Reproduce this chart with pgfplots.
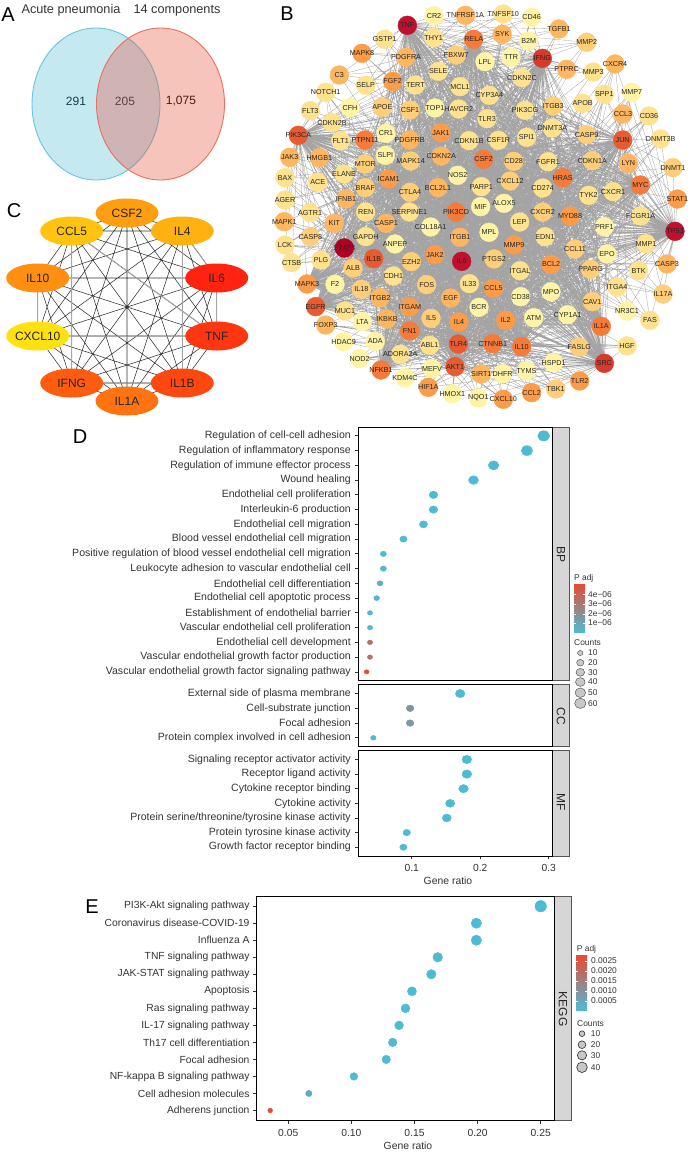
\documentclass[border=0pt]{standalone}
\usepackage{fontspec}
\setmainfont{Liberation Sans}
\usepackage{pgfplots}
\usepackage{pgfplotstable}
\pgfplotsset{compat=1.18}

\definecolor{txt}{HTML}{333333}
\definecolor{npgb}{RGB}{77,187,213}
\definecolor{npgr}{RGB}{230,75,53}
\definecolor{stripf}{HTML}{D6D6D6}
\definecolor{stripd}{HTML}{555555}
\definecolor{edgec}{HTML}{A4A4A4}

\pgfdeclareplotmark{venn}{\pgfpathellipse{\pgfpointorigin}{\pgfqpoint{64pt}{0pt}}{\pgfqpoint{0pt}{76pt}}\pgfusepathqfillstroke}
\pgfdeclareplotmark{cell}{\pgfpathellipse{\pgfpointorigin}{\pgfqpoint{31.5pt}{0pt}}{\pgfqpoint{0pt}{14.5pt}}\pgfusepathqfill}

% network B, positions in 3x pixels, d = degree class 1..10
\pgfplotstableread{
name x y d
TNF 502 76 9
CR2 582 47 1
TNFRSF1A 676 46 4
TNFSF10 790 42 2
CD46 875 52 1
TGFB1 957 87 4
THY1 581 113 2
RELA 701 118 6
SYK 787 103 4
B2M 866 123 1
GSTP1 434 118 2
MMP2 1040 127 3
MAPK8 366 160 5
PDGFRA 498 172 4
FBXW7 649 165 3
LPL 735 185 1
TTR 813 172 1
IFNG 907 175 8
CXCR4 1125 192 4
PTPRC 980 208 4
MMP3 1060 216 2
C3 298 225 4
SELE 595 214 2
CDKN2C 846 233 2
FGF2 458 244 5
TERT 526 255 2
SELP 377 256 2
MCL1 660 260 2
NOTCH1 257 277 2
SPP1 1093 283 2
MMP7 1175 277 1
CYP3A4 748 286 2
FLT3 211 332 2
CFH 330 323 1
APOE 427 322 3
CSF1 510 330 3
TOP1 585 324 1
HAVCR2 656 327 2
PIK3CG 855 331 2
ITGB3 940 318 3
APOB 1028 310 2
CCL3 1149 342 4
CD36 1227 348 2
TLR3 741 356 2
CDKN2B 276 368 2
DNMT3A 937 384 2
PIK3CA 175 406 7
CR1 438 400 1
JAK1 603 398 5
PTPN11 375 420 6
FLT1 302 422 2
PDGFRB 509 420 4
CDKN1B 687 422 2
CSF1R 775 421 2
SPI1 860 412 2
CASP9 1040 404 3
JUN 1148 420 7
DNMT3B 1262 417 2
JAK3 149 472 4
HMGB1 238 473 4
SLPI 436 466 1
CDKN2A 604 468 4
CSF2 731 478 6
CD28 821 484 3
FGFR1 924 485 2
MTOR 376 492 3
MAPK14 512 483 3
CDKN1A 1057 482 3
LYN 1165 490 4
DNMT1 1299 503 3
ELANE 312 522 2
BAX 135 533 2
ACE 233 547 2
ICAM1 446 537 5
NOS2 653 526 1
CXCL12 810 543 3
HRAS 968 533 6
MYC 1201 555 6
CD274 908 564 2
BRAF 376 563 3
BCL2L1 594 563 4
PARP1 724 560 2
TYK2 1046 586 2
CXCR1 1119 575 2
STAT1 1312 597 5
AGER 135 600 2
CTLA4 510 577 3
IFNB1 318 597 4
ALOX5 792 610 1
MIF 722 620 1
AGTR1 210 638 2
REN 377 636 2
SERPINE1 508 636 2
PIK3CD 648 636 6
LEP 839 666 2
CXCR2 908 636 3
MYD88 990 648 5
FCGR1A 1202 648 2
PRF1 1093 680 1
MAPK1 133 665 4
KIT 283 670 4
CASP1 438 670 4
COL18A1 572 681 1
MPL 747 697 1
EDN1 915 710 2
TP53 1305 694 9
CASP8 211 710 3
GAPDH 377 710 2
ANPEP 465 732 1
ITGB1 660 712 4
MMP9 822 735 5
MMP1 1218 731 2
LCK 135 735 2
STAT3 313 744 10
CCL11 1005 747 3
EPO 1101 762 1
IL1B 401 776 7
JAK2 585 764 5
PTGS2 762 777 3
IL6 665 784 9
EZH2 514 785 3
BCL2 933 793 5
CASP3 1281 792 4
CTSB 155 788 2
PLG 243 780 2
ALB 339 804 3
ITGAL 840 812 2
PPARG 1052 808 3
BTK 1196 812 2
CDH1 460 828 2
F2 285 853 1
MAPK3 201 852 5
FOS 560 854 3
IL33 688 851 2
CCL5 760 865 5
MPO 933 875 1
ITGA4 1131 861 2
IL17A 1269 882 3
IL18 364 868 3
CD38 842 890 1
EGF 632 894 4
ITGB2 420 893 4
CAV1 1057 905 3
BCR 717 922 1
EGFR 227 920 7
ITGAM 509 921 5
MUC1 315 933 2
NR3C1 1161 933 1
CYP1A1 983 944 1
IL5 573 955 3
IL2 797 961 5
ATM 881 953 1
IKBKB 441 957 4
LTA 367 965 1
IL4 657 966 5
FAS 1230 961 2
FOXP3 257 975 4
IL1A 1084 979 6
FN1 509 993 6
ADA 406 1024 1
HDAC9 311 1025 1
ABL1 569 1036 2
TLR4 655 1032 7
CTNNB1 758 1031 6
IL10 845 1040 6
FASLG 1018 1041 3
HGF 1161 1038 2
ADORA2A 481 1063 2
HSPD1 941 1088 1
NOD2 359 1076 1
NFKB1 423 1110 6
AKT1 645 1100 7
SRC 1093 1090 8
MEFV 576 1106 1
TYMS 859 1112 1
SIRT1 724 1122 4
DHFR 788 1121 1
KDM4C 495 1133 1
HIF1A 565 1162 5
TLR2 1019 1143 5
CCL2 875 1178 5
TBK1 947 1167 3
HMOX1 637 1181 1
NQO1 715 1194 1
CXCL10 790 1198 5
}\netnodes

% network C, g = green channel of the node colour
\pgfplotstableread{
name x y g
CSF2 127 213 154
CCL5 71.7 231 192
IL4 182.3 231 174
IL10 37.7 278 138
IL6 216.7 278 26
CXCL10 37.7 336 222
TNF 216.7 336 46
IFNG 71.7 383 85
IL1B 182.3 383 64
IL1A 127 401 110
}\cnodes

\pgfplotstableread{
x n p
0.2927 60 0.02
0.2683 55 0.02
0.2195 45 0.02
0.1902 39 0.02
0.1317 27 0.02
0.1317 27 0.02
0.1171 24 0.02
0.0878 18 0.02
0.0585 12 0.02
0.0585 12 0.02
0.0537 11 0.6
0.0488 10 0.25
0.0390 8 0.25
0.0390 8 0.2
0.0390 8 3.4
0.0390 8 3.2
0.0341 7 5.05
}\bpdata
\pgfplotstableread{
x n p
0.1707 35 0.02
0.0976 20 1.75
0.0976 20 1.5
0.0439 9 0.02
}\ccdata
\pgfplotstableread{
x n p
0.1805 37 0.02
0.1805 37 0.02
0.1756 36 0.02
0.1561 32 0.02
0.1512 31 0.02
0.0927 19 0.02
0.0878 18 0.02
}\mfdata
\pgfplotstableread{
x n p
0.2500 49 0.00001
0.1990 39 0.00001
0.1990 39 0.00001
0.1684 33 0.00001
0.1633 32 0.00001
0.1480 29 0.00001
0.1429 28 0.00001
0.1378 27 0.00001
0.1327 26 0.00001
0.1276 25 0.00001
0.1020 20 0.00001
0.0663 13 0.0004
0.0357 7 0.00275
}\keggdata

% legend keys for the counts
\pgfplotstableread{
x y n
580.3 653 10
580.3 662.7 20
580.3 672.3 30
580.3 682 40
580.3 692.7 50
580.3 703.3 60
}\legD
\pgfplotstableread{
x y n
582 1033.7 10
582 1044.7 20
582 1055.3 30
582 1067.3 40
}\legE

% node positions as macros, used for the edges
\newcommand\loadpts[2]{%
  \pgfplotstablegetrowsof{#1}\pgfmathtruncatemacro\lastrow{\pgfplotsretval-1}%
  \foreach \i in {0,...,\lastrow}{%
    \pgfplotstablegetelem{\i}{name}\of#1\let\nm\pgfplotsretval
    \pgfplotstablegetelem{\i}{x}\of#1\let\vx\pgfplotsretval
    \pgfplotstablegetelem{\i}{y}\of#1\let\vy\pgfplotsretval
    \expandafter\xdef\csname P@#2\nm\endcsname{(\vx,\vy)}%
  }%
}
\gdef\edges{}
\newcommand\collect[3]{%
  \foreach \h in #1{\foreach \t in #2{%
    \xdef\edges{\edges\csname P@#3\h\endcsname\csname P@#3\t\endcsname}%
  }}%
}

\def\inner{PDGFRA,FBXW7,LPL,FGF2,TERT,SELE,MCL1,CYP3A4,CSF1,TOP1,HAVCR2,PIK3CG,ITGB3,TLR3,DNMT3A,JAK1,PTPN11,PDGFRB,CDKN1B,CSF1R,SPI1,CASP9,CDKN2A,CSF2,CD28,FGFR1,MTOR,MAPK14,CDKN1A,ICAM1,NOS2,CXCL12,HRAS,CD274,BRAF,BCL2L1,PARP1,TYK2,CXCR1,CTLA4,ALOX5,MIF,SERPINE1,PIK3CD,LEP,CXCR2,MYD88,COL18A1,MPL,EDN1,GAPDH,ANPEP,ITGB1,MMP9,CCL11,EPO,IL1B,JAK2,PTGS2,IL6,EZH2,BCL2,ITGAL,PPARG,CDH1,FOS,IL33,CCL5,MPO,CD38,EGF,ITGB2,BCR,ITGAM,CAV1,IL18,IL5,IL2,ATM,IKBKB,IL4,FN1,CYP1A1,TLR4,CTNNB1,IL10}
\def\north{CR2,TNFRSF1A,TNFSF10,CD46,TGFB1,THY1,RELA,SYK,B2M,GSTP1,MMP2,MAPK8,TTR,CDKN2C,PTPRC,MMP3,SELP,C3}
\def\west{NOTCH1,FLT3,CFH,APOE,CDKN2B,CR1,FLT1,JAK3,HMGB1,SLPI,ELANE,BAX,ACE,AGER,IFNB1,AGTR1,REN,MAPK1,KIT,CASP8,LCK,STAT3,CTSB,PLG,ALB,F2,MAPK3,CASP1}
\def\east{CXCR4,SPP1,MMP7,APOB,CCL3,CD36,DNMT3B,LYN,DNMT1,MYC,STAT1,FCGR1A,PRF1,TP53,MMP1,CASP3,BTK,ITGA4,IL17A,NR3C1,FAS,JUN}
\def\south{EGFR,MUC1,LTA,FOXP3,IL1A,ADA,HDAC9,ABL1,FASLG,HGF,ADORA2A,HSPD1,NOD2,NFKB1,AKT1,SRC,MEFV,TYMS,SIRT1,DHFR,KDM4C,HIF1A,TLR2,CCL2,TBK1,HMOX1,NQO1,CXCL10}
\def\hubsA{TNF,IL6,STAT3,TP53,SRC,IFNG,JUN,AKT1,EGFR,PIK3CA,NFKB1,MYC,RELA,MAPK3,IL1A}
\def\hubsI{IL1B,CSF2,ICAM1,PIK3CD,JAK2,CTNNB1,IL10,TLR4,FN1,HRAS,MYD88,MMP9}
\def\hubsN{TNF,IFNG,IL6,CSF2,FGF2,PDGFRA}
\def\hubsW{PIK3CA,STAT3,IL1B,IL6,CDKN2A,ICAM1}
\def\hubsE{TP53,JUN,HRAS,IL6,CCL11,BCL2}
\def\hubsS{AKT1,SRC,TLR4,IL6,CTNNB1,IL10,FN1}
\def\call{CSF2,CCL5,IL4,IL10,IL6,CXCL10,TNF,IFNG,IL1B,IL1A}

\loadpts{\netnodes}{}
\collect{\hubsA}{\inner}{}
\collect{\hubsI}{\inner}{}
\collect{\hubsN}{\north}{}
\collect{\hubsW}{\west}{}
\collect{\hubsE}{\east}{}
\collect{\hubsS}{\south}{}
\global\let\netedges\edges
\gdef\edges{}
\loadpts{\cnodes}{c}
\collect{\call}{\call}{c}
\global\let\cedges\edges

\pgfplotsset{
  dots/.style={
    scale only axis, clip=false,
    y dir=reverse,
    axis line style={line width=0.85pt,black},
    tick style={line width=0.7pt,color=txt},
    tick align=outside, major tick length=3.5pt,
    xtick pos=bottom, ytick pos=left,
    yticklabel style={font=\fontsize{#1}{11}\selectfont,text=txt,inner sep=0pt,xshift=-3.5pt},
    xticklabel style={font=\fontsize{10.3}{11}\selectfont,text=txt,yshift=-1.5pt},
    colormap={npg}{rgb255=(77,187,213) rgb255=(230,75,53)},
  },
  flatscatter/.style={scatter/use mapped color={draw=mapped color,fill=mapped color}},
  dotplot/.style={
    scatter, only marks, mark=*, flatscatter,
    point meta=explicit,
    scatter/@pre marker code/.append style={/tikz/mark size=\rad},
  },
  textplot/.style={
    only marks, mark=none, forget plot,
    point meta=explicit symbolic,
    nodes near coords,
    every node near coord/.append style={anchor=center,inner sep=0pt,text=black!85,font=#1},
  },
  legkey/.style={
    scatter, only marks, mark=*, point meta=explicit,
    scatter/use mapped color={draw=black!75,fill=black!22},
    mark options={line width=0.7pt},
    scatter/@pre marker code/.append style={/tikz/mark size=\rad},
  },
  legtext/.style={
    only marks, mark=none, forget plot,
    point meta=explicit symbolic,
    nodes near coords,
    every node near coord/.append style={anchor=west,inner sep=0pt,xshift=#1,font=\fontsize{8.4}{9}\selectfont,text=txt},
  },
}
\tikzset{
  strip/.style={fill=stripf,draw=stripd,line width=0.85pt},
  striplab/.style={rotate=-90,font=\fontsize{12}{13}\selectfont,text=black!85},
  leg/.style={anchor=west,inner sep=0pt,font=\fontsize{8.4}{9}\selectfont,text=txt},
  letter/.style={inner sep=0pt,font=\fontsize{20}{22}\selectfont},
  axlab/.style={inner sep=0pt,font=\fontsize{10.4}{11}\selectfont,text=txt},
  barshade/.style={bottom color=npgb,top color=npgr,middle color=npgb!50!npgr},
}

\begin{document}
\begin{tikzpicture}
\path[use as bounding box] (0pt,0pt) rectangle (692pt,1152pt);
% page axis in reference pixels: panels A, C, letters, strips, legends
\begin{axis}[
  name=page, at={(0pt,0pt)}, anchor=south west,
  scale only axis, width=692pt, height=1152pt,
  xmin=0, xmax=692, ymin=0, ymax=1152, y dir=reverse,
  hide axis, clip=false,
  colormap={cnet}{rgb255=(255,20,16) rgb255=(255,225,16)},
]
% A
\addplot[only marks, mark=venn, mark options={fill=npgb, draw=npgb!85!white, fill opacity=0.33, line width=0.9pt}] coordinates {(96,104)};
\addplot[only marks, mark=venn, mark options={fill=npgr, draw=npgr!80!white, fill opacity=0.33, line width=0.9pt}] coordinates {(160.5,104)};
\node[inner sep=0pt,font=\fontsize{12.7}{14}\selectfont,text=txt] at (71,10.5) {Acute pneumonia};
\node[inner sep=0pt,font=\fontsize{12.7}{14}\selectfont,text=txt] at (177,10.5) {14 components};
\node[inner sep=0pt,font=\fontsize{12}{13}\selectfont] at (76,101) {291};
\node[inner sep=0pt,font=\fontsize{12}{13}\selectfont] at (125,101) {205};
\node[inner sep=0pt,font=\fontsize{12}{13}\selectfont] at (181,101) {1,075};
% C
\edef\cmd{\noexpand\addplot[black!80,line width=0.55pt,forget plot] coordinates {\cedges};}\cmd
\addplot[gray!70,line width=1pt,forget plot] coordinates {(37.7,278)(37.7,336)(216.7,336)(71.7,231)(71.7,383)(182.3,383)(182.3,231)(216.7,278)(216.7,336)};
\addplot[scatter,only marks,mark=cell,flatscatter,point meta=explicit,point meta min=20,point meta max=225]
  table[x=x,y=y,meta=g] {\cnodes};
\addplot[textplot={\fontsize{12}{13}\selectfont}] table[x=x,y=y,meta=name] {\cnodes};
% letters
\node[letter] at (8,15) {A};
\node[letter] at (287,14) {B};
\node[letter] at (14,211) {C};
\node[letter] at (80,437) {D};
\node[letter] at (92,907) {E};
% strips
\draw[strip] (552.3,427) rectangle (569.3,680.7);
\node[striplab] at (561,554) {BP};
\draw[strip] (552.3,684.7) rectangle (569.3,746.7);
\node[striplab] at (561,716) {CC};
\draw[strip] (552.3,750.7) rectangle (569.3,856);
\node[striplab] at (561,802.3) {MF};
\draw[strip] (554,896) rectangle (571.7,1120.7);
\node[striplab] at (563,1009) {KEGG};
% axis titles
\node[axlab] at (448,881) {Gene ratio};
\node[axlab] at (408,1146) {Gene ratio};
% legend of D
\node[leg] at (574,578) {P adj};
\shade[barshade] (574,584) rectangle (585,632.7);
\foreach \yy/\tt in {594.3/4e−06,604/3e−06,613.7/2e−06,623/1e−06}{
  \edef\tmp{\noexpand\draw[white,line width=0.4pt] (574,\yy) -- (576.2,\yy) (582.8,\yy) -- (585,\yy);
  \noexpand\node[leg] at (588,\yy) {\tt};}\tmp
}
\node[leg] at (574,642.7) {Counts};
\addplot[legkey, mark options={xscale=1.1},
  visualization depends on={pow(\thisrow{n},0.4) \as \rad}]
  table[x=x,y=y,meta=n] {\legD};
\addplot[legtext=7.7pt] table[x=x,y=y,meta=n] {\legD};
% legend of E
\node[leg] at (576.7,949) {P adj};
\shade[barshade] (576,955.7) rectangle (587,1010.3);
\foreach \yy/\tt in {960.7/0.0025,970.7/0.0020,980.7/0.0015,990.7/0.0010,1000.7/0.0005}{
  \edef\tmp{\noexpand\draw[white,line width=0.4pt] (576,\yy) -- (578.2,\yy) (584.8,\yy) -- (587,\yy);
  \noexpand\node[leg] at (591,\yy) {\tt};}\tmp
}
\node[leg] at (577,1024) {Counts};
\addplot[legkey,
  visualization depends on={pow(\thisrow{n},0.45) \as \rad}]
  table[x=x,y=y,meta=n] {\legE};
\addplot[legtext=8.7pt] table[x=x,y=y,meta=n] {\legE};
\end{axis}

% B: network, axis units are 3x pixels
\begin{axis}[
  at={(240pt,1152pt)}, anchor=north west,
  scale only axis, width=452pt, height=420pt,
  xmin=0, xmax=1356, ymin=0, ymax=1260, y dir=reverse,
  hide axis, clip=false,
  colormap={net}{rgb255=(255,244,165) rgb255=(255,226,142) rgb255=(254,206,120) rgb255=(254,182,96) rgb255=(253,156,72) rgb255=(246,122,56) rgb255=(232,90,48) rgb255=(214,58,44) rgb255=(192,16,46) rgb255=(176,0,32)},
]
\edef\cmd{\noexpand\addplot[edgec,line width=0.3pt,forget plot] coordinates {\netedges};}\cmd
\addplot[scatter,only marks,mark=*,mark size=9.4pt,flatscatter,point meta=explicit,point meta min=1,point meta max=10]
  table[x=x,y=y,meta=d] {\netnodes};
\addplot[textplot={\fontsize{7.2}{8}\selectfont}] table[x=x,y=y,meta=name] {\netnodes};
\end{axis}

% D
\begin{axis}[dots=10.55,
  at={(358pt,725pt)}, anchor=north west, width=194.3pt, height=253.7pt,
  xmin=0.0215, xmax=0.3053, ymin=0.4, ymax=17.6,
  xtick={0.1,0.2,0.3}, xticklabels={},
  ytick={1,...,17},
  yticklabels={Regulation of cell-cell adhesion,Regulation of inflammatory response,Regulation of immune effector process,Wound healing,Endothelial cell proliferation,Interleukin-6 production,Endothelial cell migration,Blood vessel endothelial cell migration,Positive regulation of blood vessel endothelial cell migration,Leukocyte adhesion to vascular endothelial cell,Endothelial cell differentiation,Endothelial cell apoptotic process,Establishment of endothelial barrier,Vascular endothelial cell proliferation,Endothelial cell development,Vascular endothelial growth factor production,Vascular endothelial growth factor signaling pathway},
  point meta min=0, point meta max=5.05, xtick style={draw=none},
]
\addplot[dotplot, mark options={xscale=1.15},
  visualization depends on={pow(\thisrow{n},0.4) \as \rad}]
  table[x=x,y expr=\coordindex+1,meta=p] {\bpdata};
\end{axis}
\begin{axis}[dots=10.55,
  at={(358pt,467.3pt)}, anchor=north west, width=194.3pt, height=62pt,
  xmin=0.0215, xmax=0.3053, ymin=0.4, ymax=4.6,
  xtick={0.1,0.2,0.3}, xticklabels={}, xtick style={draw=none},
  ytick={1,...,4},
  yticklabels={External side of plasma membrane,Cell-substrate junction,Focal adhesion,Protein complex involved in cell adhesion},
  point meta min=0, point meta max=5.05,
]
\addplot[dotplot, mark options={xscale=1.15},
  visualization depends on={pow(\thisrow{n},0.4) \as \rad}]
  table[x=x,y expr=\coordindex+1,meta=p] {\ccdata};
\end{axis}
\begin{axis}[dots=10.55,
  at={(358pt,401.3pt)}, anchor=north west, width=194.3pt, height=105.3pt,
  xmin=0.0215, xmax=0.3053, ymin=0.4, ymax=7.6,
  xtick={0.1,0.2,0.3}, xticklabels={0.1,0.2,0.3},
  ytick={1,...,7},
  yticklabels={Signaling receptor activator activity,Receptor ligand activity,Cytokine receptor binding,Cytokine activity,Protein serine/threonine/tyrosine kinase activity,Protein tyrosine kinase activity,Growth factor receptor binding},
  point meta min=0, point meta max=5.05,
]
\addplot[dotplot, mark options={xscale=1.15},
  visualization depends on={pow(\thisrow{n},0.4) \as \rad}]
  table[x=x,y expr=\coordindex+1,meta=p] {\mfdata};
\end{axis}

% E
\begin{axis}[dots=10.3,
  at={(256.7pt,256pt)}, anchor=north west, width=297.3pt, height=224.7pt,
  xmin=0.025, xmax=0.2605, ymin=0.4, ymax=13.6,
  xtick={0.05,0.10,0.15,0.20,0.25}, xticklabels={0.05,0.10,0.15,0.20,0.25},
  ytick={1,...,13},
  yticklabels={PI3K-Akt signaling pathway,Coronavirus disease-COVID-19,Influenza A,TNF signaling pathway,JAK-STAT signaling pathway,Apoptosis,Ras signaling pathway,IL-17 signaling pathway,Th17 cell differentiation,Focal adhesion,NF-kappa B signaling pathway,Cell adhesion molecules,Adherens junction},
  point meta min=0, point meta max=0.00275,
]
\addplot[dotplot,
  visualization depends on={pow(\thisrow{n},0.45) \as \rad}]
  table[x=x,y expr=\coordindex+1,meta=p] {\keggdata};
\end{axis}
\end{tikzpicture}
\end{document}
